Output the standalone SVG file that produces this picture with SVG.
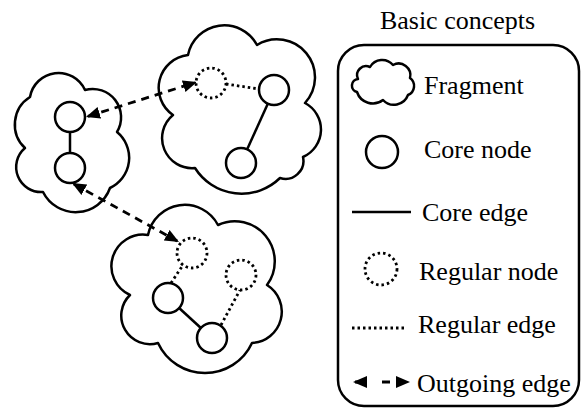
<svg xmlns="http://www.w3.org/2000/svg" width="582" height="410" viewBox="0 0 582 410">
<style>
.cloud{fill:#fff;stroke:#000;stroke-width:2.5;stroke-linejoin:round}
.core{fill:#fff;stroke:#000;stroke-width:2.5}
.reg{fill:#fff;stroke:#000;stroke-width:2.8;stroke-dasharray:2.5 3}
.cedge{stroke:#000;stroke-width:2.5;fill:none}
.redge{stroke:#000;stroke-width:2.8;stroke-dasharray:2.5 3;fill:none}
.oedge{stroke:#000;stroke-width:2.8;stroke-dasharray:8 6;fill:none;marker-start:url(#ah);marker-end:url(#ah)}
.lbl{font-family:"Liberation Serif","Times New Roman",serif;font-size:26px;fill:#000}
</style>
<defs>
<marker id="ah" viewBox="0 0 14 12" refX="12" refY="6" markerWidth="14" markerHeight="12" markerUnits="userSpaceOnUse" orient="auto-start-reverse">
<path d="M0,0 L14,6 L0,12 Z" fill="#000"/>
</marker>
</defs>

<g id="fragment-left">
<path class="cloud" d="M30,97 A29,29 0 0 1 85,90 A28.4,28.4 0 0 1 117,132 A33.4,33.4 0 0 1 110,188 A36.5,36.5 0 0 1 43,192 A25,25 0 0 1 25,148 A32.4,32.4 0 0 1 30,97 Z"/>
</g>
<g id="fragment-top">
<path class="cloud" d="M173,115 A33,33 0 0 1 188,55 A37,37 0 0 1 257,45 A38,38 0 0 1 305,103 A30,30 0 0 1 303,157 A18,18 0 0 1 280,178 A55,55 0 0 1 195,168 A30,30 0 0 1 173,115 Z"/>
</g>
<g id="fragment-bottom">
<path class="cloud" d="M148,235 A37.5,37.5 0 0 1 218,225 A40,40 0 0 1 267,285 A31.4,31.4 0 0 1 252,343 A51.8,51.8 0 0 1 158,343 A28.6,28.6 0 0 1 130,295 A31.6,31.6 0 0 1 148,235 Z"/>
</g>

<g id="connectors">
<line class="cedge" x1="70" y1="132" x2="70" y2="153"/>
<line class="cedge" x1="267.8" y1="103.7" x2="247.2" y2="149.3"/>
<line class="redge" x1="226" y1="84" x2="259" y2="89"/>
<line class="cedge" x1="179.1" y1="308" x2="200.9" y2="328"/>
<line class="redge" x1="171" y1="283" x2="183" y2="265"/>
<line class="redge" x1="221" y1="325" x2="240" y2="290"/>
<line class="oedge" x1="87.9" y1="116.4" x2="195.1" y2="82.6"/>
<line class="oedge" x1="73.8" y1="184" x2="177.2" y2="241"/>
</g>

<g id="node-l1"><circle class="core" cx="70" cy="117" r="15"/></g>
<g id="node-l2"><circle class="core" cx="70" cy="168" r="15"/></g>
<g id="node-t1"><circle class="reg" cx="211" cy="83" r="15"/></g>
<g id="node-t2"><circle class="core" cx="274" cy="90" r="15"/></g>
<g id="node-t3"><circle class="core" cx="241" cy="163" r="15"/></g>
<g id="node-b1"><circle class="reg" cx="192" cy="253" r="15"/></g>
<g id="node-b2"><circle class="reg" cx="241" cy="275" r="15"/></g>
<g id="node-b3"><circle class="core" cx="168" cy="298" r="15"/></g>
<g id="node-b4"><circle class="core" cx="212" cy="338" r="15"/></g>

<g id="legend">
<text class="lbl" x="457.5" y="29" text-anchor="middle">Basic concepts</text>
<rect x="338" y="45" width="241" height="361" rx="26" ry="26" fill="none" stroke="#000" stroke-width="2.5"/>
<path class="cloud" d="M358,79 A9,9 0 0 1 370,67 A14,14 0 0 1 393,65 A11.7,11.7 0 0 1 410,78 A9.8,9.8 0 0 1 408,95 A15,15 0 0 1 383,100 A16.7,16.7 0 0 1 357,92 A6.6,6.6 0 0 1 358,79 Z"/>
<text class="lbl" x="424" y="93.5">Fragment</text>
<circle class="core" cx="382" cy="152" r="16"/>
<text class="lbl" x="424" y="157.5">Core node</text>
<line class="cedge" x1="352" y1="212" x2="411" y2="212"/>
<text class="lbl" x="422" y="220.5">Core edge</text>
<circle class="reg" cx="381" cy="269" r="16"/>
<text class="lbl" x="419" y="280">Regular node</text>
<line class="redge" x1="352" y1="328" x2="406" y2="328"/>
<text class="lbl" x="418" y="333">Regular edge</text>
<line x1="355" y1="382" x2="408" y2="382" stroke="#000" stroke-width="2.8" stroke-dasharray="12 15 8 30" marker-start="url(#ah)" marker-end="url(#ah)"/>
<text class="lbl" x="417" y="391.5">Outgoing edge</text>
</g>
</svg>
